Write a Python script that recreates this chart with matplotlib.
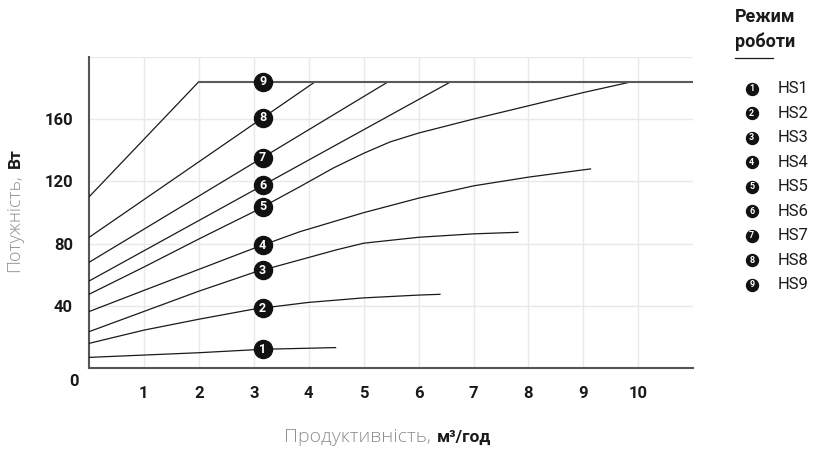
import numpy as np
import matplotlib
matplotlib.use('Agg')
import matplotlib.pyplot as plt

# flow (m3/h) vs power (W) for each fan speed mode
hs1_x = [0, 2, 3.16, 4.5]
hs1_y = [7, 10, 12.2, 13.3]
hs2_x = [0, 1, 2, 3, 4, 5, 6, 6.4]
hs2_y = [16, 24.5, 31.5, 38, 42.3, 45.2, 47, 47.5]
hs3_x = [0, 1, 2, 3, 3.84, 4.5, 5, 6, 7, 7.82]
hs3_y = [23.5, 36.5, 49.5, 61.5, 69.6, 76, 80.3, 84.1, 86.3, 87.3]
hs4_x = [0, 1, 2, 3, 3.84, 5, 6, 7, 8, 9, 9.14]
hs4_y = [36.4, 50, 63.5, 77, 87.7, 99.9, 109.2, 117.1, 122.7, 127.4, 128]
hs5_x = [0, 1, 2, 3, 3.84, 4.45, 5, 5.48, 6, 7, 8, 9, 9.89]
hs5_y = [47.5, 65, 83, 100.5, 116.6, 128.6, 138, 145.3, 151, 160, 168.5, 177, 184]
hs6_x = [0, 6.59]
hs6_y = [56, 184]
hs7_x = [0, 5.45]
hs7_y = [68, 184]
hs8_x = [0, 4.12]
hs8_y = [84, 184]
hs9_x = [0, 2]
hs9_y = [110, 184]
max_power = 184
x_max = 11
label_x = 3.16

modes = ['HS1', 'HS2', 'HS3', 'HS4', 'HS5', 'HS6', 'HS7', 'HS8', 'HS9']
curves = [(hs1_x, hs1_y), (hs2_x, hs2_y), (hs3_x, hs3_y), (hs4_x, hs4_y),
          (hs5_x, hs5_y), (hs6_x, hs6_y), (hs7_x, hs7_y), (hs8_x, hs8_y),
          (hs9_x, hs9_y)]
x_ticks = [1, 2, 3, 4, 5, 6, 7, 8, 9, 10]
y_ticks = [40, 80, 120, 160, 200]
y_ticklabels = ['40', '80', '120', '160', '']

FONT = 'Roboto'
LIGHT = 'Open Sans'
W, H = 816, 449

def fx(px):
    return px / W

def fy(py):
    return 1 - py / H

fig = plt.figure(figsize=(W / 100, H / 100), dpi=100)
ax = fig.add_axes([fx(89), fy(368.3), fx(693.3) - fx(89), fy(56.7) - fy(368.3)])

for i, (xs, ys) in enumerate(curves):
    ax.plot(xs, ys, color='#1a1a1a', lw=0.9, zorder=3, solid_capstyle='butt')
# power limit line
ax.plot([hs9_x[-1], x_max], [max_power, max_power], color='#5a5a5a', lw=1.5, zorder=3)

for i, (xs, ys) in enumerate(curves):
    yv = np.interp(label_x, xs, ys)
    ax.plot([label_x], [yv], 'o', ms=13, color='#111111', mec='#111111', zorder=5)
    ax.text(label_x, yv, str(i + 1), color='white', fontsize=9, fontweight='bold',
            family=FONT, ha='center', va='center', zorder=6)

ax.set_xlim(0, x_max)
ax.set_ylim(0, 200)
ax.set_xticks(x_ticks)
ax.set_yticks(y_ticks)
ax.set_yticklabels(y_ticklabels)
ax.grid(True, color='#e9e9e9', lw=1)
ax.set_axisbelow(True)
for s in ['top', 'right']:
    ax.spines[s].set_visible(False)
for s in ['left', 'bottom']:
    ax.spines[s].set_color('#555555')
    ax.spines[s].set_linewidth(1.5)
ax.tick_params(length=0, labelsize=12, colors='#1a1a1a')
ax.tick_params(axis='y', pad=11.5)
ax.tick_params(axis='x', pad=13)
for lab in ax.get_xticklabels() + ax.get_yticklabels():
    lab.set_fontweight('bold')
    lab.set_family(FONT)
ax.annotate('0', xy=(0, 0), xytext=(-11, -9.5), textcoords='offset points',
            ha='center', va='center', fontsize=12, fontweight='bold', family=FONT,
            color='#1a1a1a', annotation_clip=False)

# axis titles: light grey part + bold unit
fig.text(fx(431.5), fy(442), 'Продуктивність,', ha='right', va='baseline',
         fontsize=14, fontweight='light', color='#8f8f8f', family=LIGHT)
fig.text(fx(436.5), fy(442), 'м³/год', ha='left', va='baseline',
         fontsize=12.5, fontweight='bold', color='#1a1a1a', family=FONT)
fig.text(fx(19.5), fy(174), 'Потужність,', ha='right', va='baseline', rotation=90,
         rotation_mode='anchor', fontsize=13, fontweight='light', color='#8f8f8f', family=LIGHT)
fig.text(fx(19.5), fy(168), 'Вт', ha='left', va='baseline', rotation=90,
         rotation_mode='anchor', fontsize=12.5, fontweight='bold', color='#1a1a1a', family=FONT)

# legend
fig.text(fx(735), fy(22), 'Режим', ha='left', va='baseline', fontsize=13,
         fontweight='bold', color='#1a1a1a', family=FONT)
fig.text(fx(735), fy(47), 'роботи', ha='left', va='baseline', fontsize=13,
         fontweight='bold', color='#1a1a1a', family=FONT)
lax = fig.add_axes([0, 0, 1, 1])
lax.set_xlim(0, W)
lax.set_ylim(H, 0)
lax.axis('off')
lax.plot([735, 773], [58.3, 58.3], color='#1a1a1a', lw=0.9)
for i, m in enumerate(modes):
    yy = 88.8 + 24.5 * i
    lax.plot([751.7], [yy], 'o', ms=8.6, color='#111111')
    lax.text(751.7, yy, str(i + 1), color='white', fontsize=6.5, fontweight='bold',
             family=FONT, ha='center', va='center')
    lax.text(778, yy, m, color='#1a1a1a', fontsize=12, family=FONT,
             ha='left', va='center')

fig.savefig('out.png', dpi=100)
